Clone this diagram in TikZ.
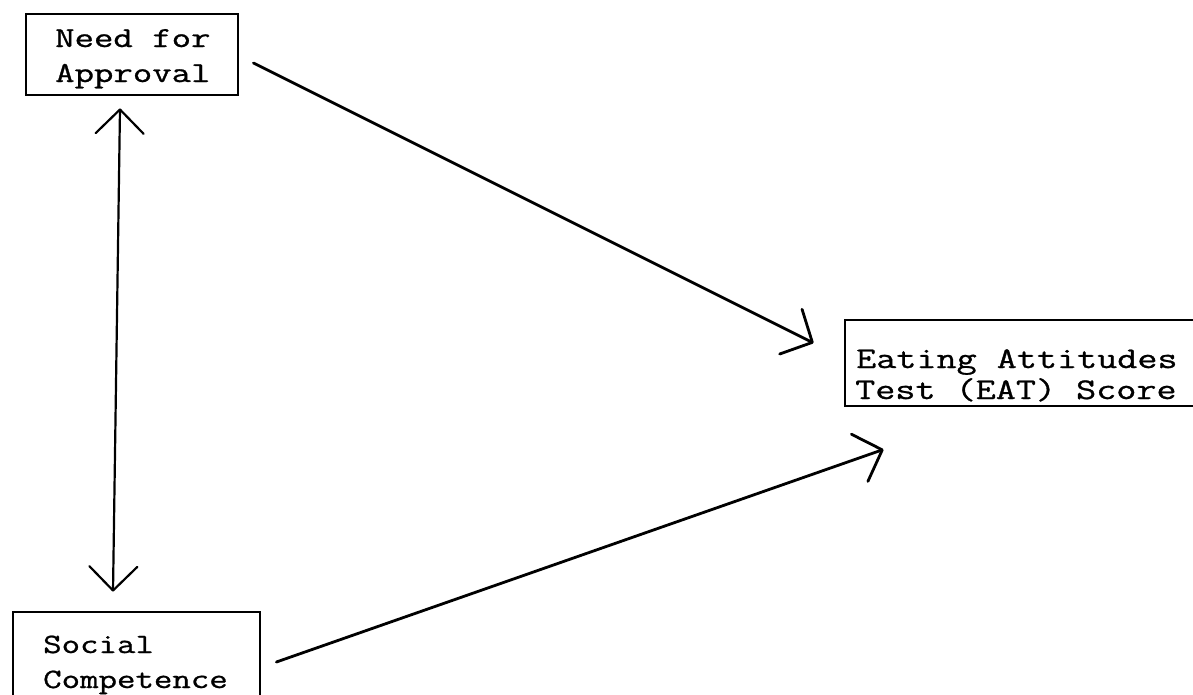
\documentclass[tikz,border=0pt]{standalone}
\usepackage{fontspec}
\newfontfamily\typew{Latin Modern Mono}[FakeBold=0.8]
\usetikzlibrary{arrows.meta}
\begin{document}
\begin{tikzpicture}[x=1pt,y=-1pt,
  box/.style={draw, line width=2.8pt, inner sep=0pt, rectangle},
  lbl/.style={inner sep=0pt, anchor=base west, font=\typew\fontsize{29}{29}\selectfont},
  link/.style={line width=2.8pt, line cap=round, line join=round,
    -{Straight Barb[length=24pt,width=50pt,line cap=round,line join=round]}},
  corr/.style={line width=2.2pt, line cap=round, line join=round,
    {Straight Barb[length=24pt,width=48pt,line cap=round,line join=round]}-{Straight Barb[length=24pt,width=48pt,line cap=round,line join=round]}}
]
\useasboundingbox (0,0) rectangle (1193,694);
\clip (0,0) rectangle (1193,694);
\fill[white] (0,0) rectangle (1193,694);

% boxes
\node[box, minimum width=212pt, minimum height=81pt] (nfa) at (132,54.5) {};
\node[box, minimum width=247pt, minimum height=108pt] (soc) at (136.5,666) {};
\node[box, minimum width=370pt, minimum height=86pt] (eat) at (1030,363) {};

% labels
\node[lbl] (nfa1) at (55,47) {\scalebox{1.3}[1]{Need for}};
\node[lbl] (nfa2) at (55,82) {\scalebox{1.3}[1]{Approval}};
\node[lbl, font=\typew\fontsize{28}{28}\selectfont] (soc1) at (43,653) {\scalebox{1.28}[1]{Social}};
\node[lbl, font=\typew\fontsize{28}{28}\selectfont] (soc2) at (43,688) {\scalebox{1.28}[1]{Competence}};
\node[lbl, font=\typew\fontsize{30}{30}\selectfont] (eat1) at (856,368) {\scalebox{1.3}[1]{Eating Attitudes}};
\node[lbl, font=\typew\fontsize{30}{30}\selectfont] (eat2) at (855,399) {\scalebox{1.3}[1]{Test (EAT) Score}};

% connector end points
\coordinate (a1s) at ([xshift=14pt,yshift=-8.5pt]nfa.east);
\coordinate (a1e) at ([xshift=-30pt,yshift=20pt]eat.west);
\coordinate (a2s) at ([xshift=15pt,yshift=4pt]soc.east);
\coordinate (a2e) at ([xshift=40pt,yshift=-42pt]eat.south west);
\coordinate (cs) at ([xshift=-12pt,yshift=-12pt]nfa.south);
\coordinate (ce) at ([xshift=-23.5pt,yshift=19pt]soc.north);

% paths
\draw[link] (a1s) -- (a1e);
\draw[link] (a2s) -- (a2e);
\draw[corr] (cs) -- (ce);
\end{tikzpicture}
\end{document}
